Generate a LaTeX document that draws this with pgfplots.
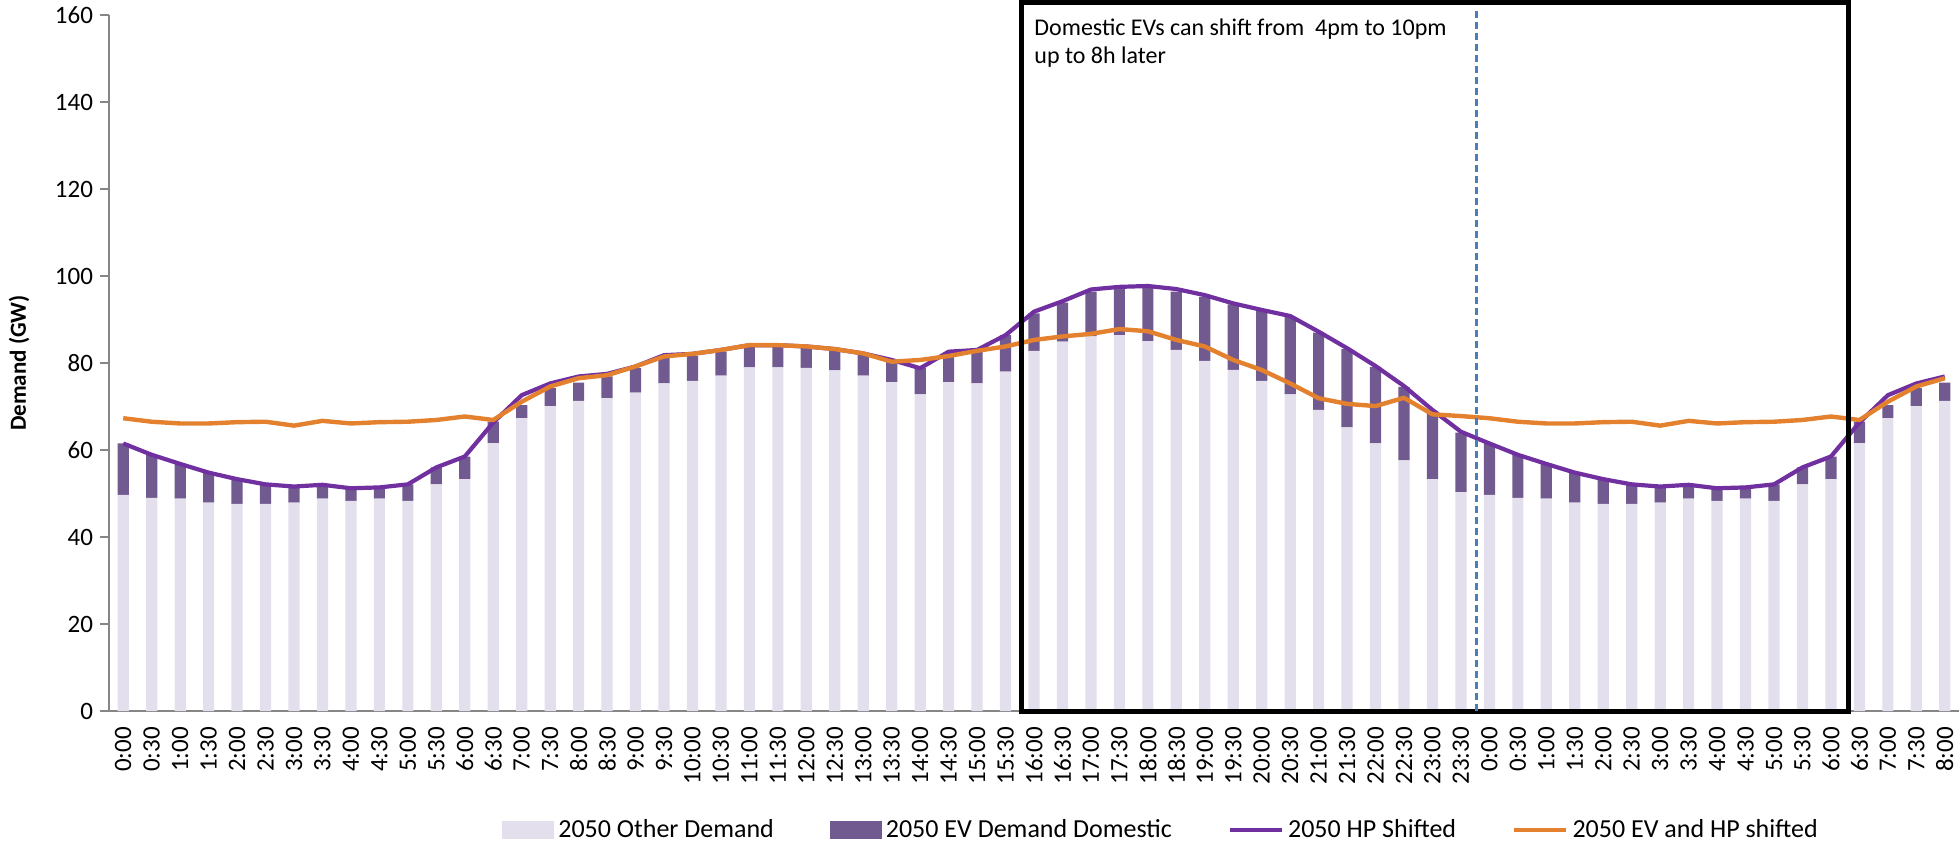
\documentclass[border=0pt]{standalone}
\usepackage{pgfplots}
\pgfplotsset{compat=1.18}
\usepackage{pgfplotstable}
\usepackage{fontspec}
\setmainfont{Carlito}

\definecolor{otherbar}{HTML}{E4DFEC}
\definecolor{evbar}{HTML}{715A8F}
\definecolor{hpline}{HTML}{7030A0}
\definecolor{evhpline}{HTML}{E4812F}
\definecolor{axisgray}{HTML}{868686}
\definecolor{dashblue}{HTML}{4A7EBB}

% half-hourly demand, 0:00 to 8:00 next day (GW)
\pgfplotstableread{
x other ev hp evhp
0 49.7 11.8 61.5 67.3
1 49.0 9.9 58.9 66.5
2 48.8 8.0 56.8 66.1
3 47.9 6.9 54.8 66.1
4 47.6 5.7 53.3 66.4
5 47.6 4.5 52.1 66.5
6 47.9 3.7 51.6 65.6
7 48.8 3.2 52.0 66.7
8 48.3 2.9 51.2 66.1
9 48.8 2.6 51.4 66.4
10 48.3 3.8 52.1 66.5
11 52.1 3.9 56.0 66.9
12 53.3 5.2 58.5 67.7
13 61.6 4.9 66.3 66.9
14 67.3 3.0 72.6 71.1
15 70.1 4.1 75.3 74.6
16 71.3 4.2 76.9 76.5
17 71.9 5.0 77.5 77.2
18 73.2 5.6 79.2 79.2
19 75.3 5.8 81.8 81.5
20 75.9 5.7 82.1 82.1
21 77.1 5.5 83.0 83.0
22 79.0 4.8 84.1 84.1
23 79.0 4.8 84.1 84.1
24 78.9 4.5 83.8 83.8
25 78.3 4.5 83.2 83.2
26 77.1 4.7 82.2 82.2
27 75.6 4.7 80.7 80.3
28 72.8 6.0 78.8 80.7
29 75.6 6.6 82.6 81.6
30 75.3 7.3 83.0 82.8
31 78.0 8.4 86.4 83.8
32 82.8 8.6 91.8 85.3
33 84.9 9.0 94.2 86.1
34 86.1 10.3 96.9 86.7
35 86.4 10.8 97.5 87.8
36 85.0 12.4 97.7 87.3
37 83.0 13.4 97.0 85.3
38 80.5 14.7 95.6 83.8
39 78.4 15.1 93.7 80.7
40 75.9 16.1 92.2 78.4
41 72.8 17.8 90.8 75.3
42 69.2 17.8 87.2 71.9
43 65.2 18.0 83.4 70.6
44 61.5 17.6 79.3 70.1
45 57.6 16.9 74.7 72.0
46 53.3 15.7 69.2 68.2
47 50.3 13.7 64.2 67.8
48 49.7 11.8 61.5 67.3
49 49.0 9.9 58.9 66.5
50 48.8 8.0 56.8 66.1
51 47.9 6.9 54.8 66.1
52 47.6 5.7 53.3 66.4
53 47.6 4.5 52.1 66.5
54 47.9 3.7 51.6 65.6
55 48.8 3.2 52.0 66.7
56 48.3 2.9 51.2 66.1
57 48.8 2.6 51.4 66.4
58 48.3 3.8 52.1 66.5
59 52.1 3.9 56.0 66.9
60 53.3 5.2 58.5 67.7
61 61.6 4.9 66.3 66.9
62 67.3 3.0 72.6 71.1
63 70.1 4.1 75.3 74.6
64 71.3 4.2 76.9 76.5
}\demand

\pgfplotsset{
  base/.style={
    scale only axis,
    width=925pt, height=348pt,
    xmin=-0.5, xmax=64.5,
    ymin=0, ymax=160,
  },
}

\begin{document}
\begin{tikzpicture}
\begin{axis}[base,
    name=ax,
    ybar stacked,
    bar width=5.6pt,
    axis lines*=left,
    axis line style={draw=axisgray, line width=0.6pt},
    ytick={0,20,...,160},
    ytick style={draw=axisgray, line width=0.6pt},
    tick align=outside,
    major tick length=4.5pt,
    xtick={0,...,64},
    xtick style={draw=none},
    xticklabels={0:00,0:30,1:00,1:30,2:00,2:30,3:00,3:30,4:00,4:30,5:00,5:30,6:00,6:30,7:00,7:30,8:00,8:30,9:00,9:30,10:00,10:30,11:00,11:30,12:00,12:30,13:00,13:30,14:00,14:30,15:00,15:30,16:00,16:30,17:00,17:30,18:00,18:30,19:00,19:30,20:00,20:30,21:00,21:30,22:00,22:30,23:00,23:30,0:00,0:30,1:00,1:30,2:00,2:30,3:00,3:30,4:00,4:30,5:00,5:30,6:00,6:30,7:00,7:30,8:00},
    xticklabel style={rotate=90, anchor=east, font=\fontsize{12.5}{15}\selectfont},
    yticklabel style={font=\fontsize{12.5}{15}\selectfont},
    /pgf/number format/assume math mode=true,
    ylabel={\textbf{Demand (GW)}},
    every axis y label/.style={at={(axis description cs:-0.0486,0.5)}, rotate=90, anchor=center, font=\fontsize{11.5}{14}\selectfont},
  ]
  \addplot[fill=otherbar, draw=none] table[x=x, y=other] {\demand};
  \addplot[fill=evbar, draw=none] table[x=x, y=ev] {\demand};
\end{axis}

\begin{axis}[base,
    hide axis,
    clip=false,
    legend columns=-1,
    legend style={at={(rel axis cs:0.2124,-0.171)}, anchor=west, draw=none, fill=none,
      inner sep=0pt, font=\fontsize{13}{15.5}\selectfont,
      /tikz/every even column/.append style={column sep=26pt}},
  ]
  \addlegendimage{fill=otherbar, draw=none, legend image code/.code={\fill[otherbar] (0pt,-4.5pt) rectangle (26pt,4.5pt);}}
  \addlegendentry{2050 Other Demand}
  \addlegendimage{fill=evbar, draw=none, legend image code/.code={\fill[evbar] (0pt,-4.5pt) rectangle (26pt,4.5pt);}}
  \addlegendentry{2050 EV Demand Domestic}
  \addplot[hpline, line width=2.1pt, line join=round,
    legend image code/.code={\draw[hpline, line width=2.1pt] (0pt,0pt) -- (26pt,0pt);}]
    table[x=x, y=hp] {\demand};
  \addlegendentry{2050 HP Shifted}
  \addplot[evhpline, line width=2.2pt, line join=round,
    legend image code/.code={\draw[evhpline, line width=2.2pt] (0pt,0pt) -- (26pt,0pt);}]
    table[x=x, y=evhp] {\demand};
  \addlegendentry{2050 EV and HP shifted}

  \draw[black, line width=2.5pt] (axis cs:31.55,0) rectangle (axis cs:60.6,162.9);
  \draw[dashblue, line width=1.1pt, dash pattern=on 3.5pt off 2pt] (axis cs:47.55,0) -- (axis cs:47.55,161.5);
  \node[anchor=base west, inner sep=0pt, font=\fontsize{12}{14}\selectfont]
    at (axis cs:32.0,155.2) {Domestic EVs can shift from\ \ 4pm to 10pm};
  \node[anchor=base west, inner sep=0pt, font=\fontsize{12}{14}\selectfont]
    at (axis cs:32.0,148.8) {up to 8h later};
\end{axis}

\pgfresetboundingbox
\path[use as bounding box] ([xshift=-54.5pt,yshift=-69.5pt]ax.south west) rectangle ([xshift=0.5pt,yshift=7.5pt]ax.north east);
\end{tikzpicture}
\end{document}
